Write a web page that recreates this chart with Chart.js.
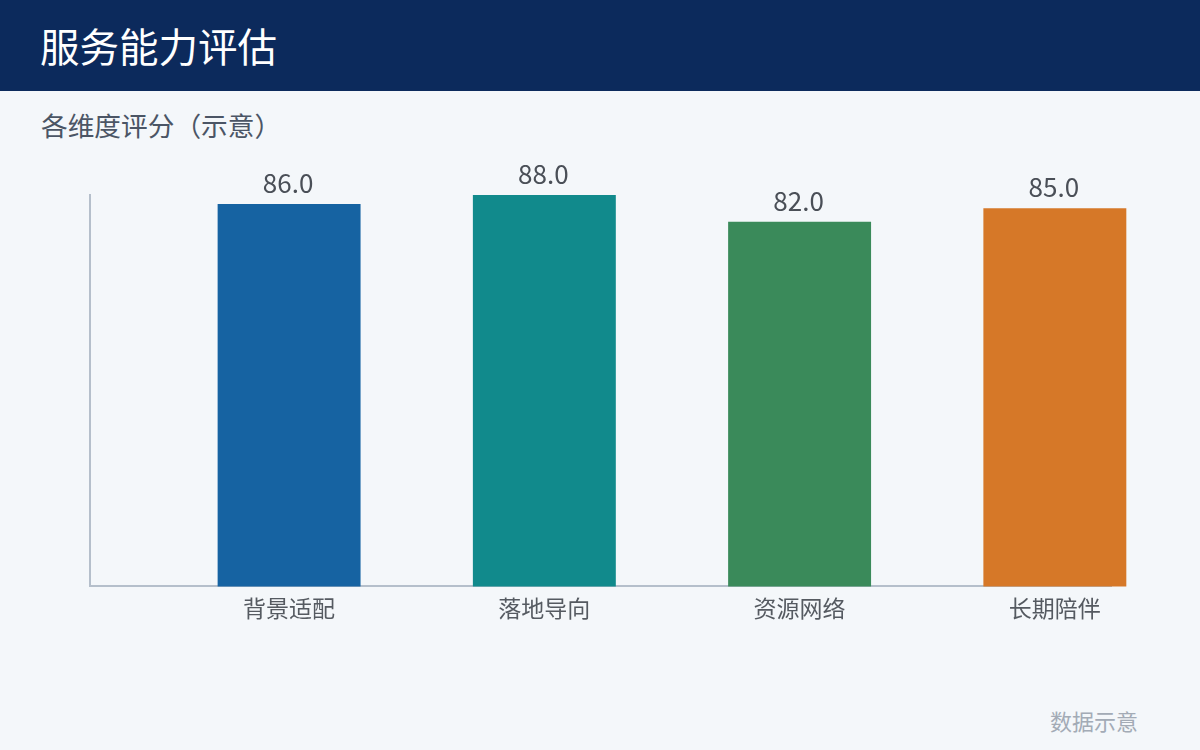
<!DOCTYPE html>
<html>
<head>
<meta charset="utf-8">
<script src="https://cdn.jsdelivr.net/npm/chart.js@4.4.1/dist/chart.umd.min.js"></script>
<style>
  html, body { margin: 0; padding: 0; }
  body {
    width: 1200px; height: 750px; position: relative; overflow: hidden;
    background: #f4f7fa;
    font-family: "Noto Sans CJK SC", "Noto Sans", sans-serif;
  }
  .header {
    position: absolute; left: 0; top: 0; width: 1200px; height: 91px;
    background: #0c2a5c; color: #fff;
  }
  .header h1 {
    margin: 0; position: absolute; left: 40px; top: 19px;
    font-size: 39.5px; font-weight: 400; line-height: 52px;
  }
  .subtitle {
    position: absolute; left: 41px; top: 107px;
    font-size: 26.7px; color: #4b5565; line-height: 36px;
  }
  .note {
    position: absolute; right: 62px; top: 705px;
    font-size: 22px; color: #a3abb6; line-height: 30px;
  }
  #wrap { position: absolute; left: 0; top: 0; width: 1200px; height: 750px; }
</style>
</head>
<body>
<div class="header"><h1>服务能力评估</h1></div>
<div class="subtitle">各维度评分（示意）</div>
<div class="note">数据示意</div>
<div id="wrap"><canvas id="chart"></canvas></div>
<script>
const categories = ['背景适配', '落地导向', '资源网络', '长期陪伴'];
const scores = [86, 88, 82, 85];
const barColors = ['#1663a2', '#118a8c', '#3a8a5a', '#d67828'];

// bars sit to the right of each slot centre, labels follow the bars
const SHIFT = 0.28;

const valueLabels = {
  id: 'valueLabels',
  afterDatasetsDraw(chart) {
    const ctx = chart.ctx;
    const meta = chart.getDatasetMeta(0);
    ctx.save();
    ctx.font = '26px "Noto Sans CJK SC", sans-serif';
    ctx.fillStyle = '#4a4f57';
    ctx.textAlign = 'center';
    ctx.textBaseline = 'bottom';
    meta.data.forEach((bar, i) => {
      ctx.fillText(scores[i].toFixed(1), bar.x - 1, bar.y - 8);
    });
    ctx.restore();
  }
};

const ctx = document.getElementById('chart').getContext('2d');
new Chart(ctx, {
  type: 'bar',
  data: {
    datasets: [{
      data: scores.map((v, i) => ({ x: i + SHIFT, y: v })),
      backgroundColor: barColors,
      borderWidth: 0,
      barPercentage: 0.56,
      categoryPercentage: 1,
      clip: false
    }]
  },
  options: {
    responsive: true,
    maintainAspectRatio: false,
    animation: false,
    layout: { padding: { left: 90, right: 89, top: 195, bottom: 120 } },
    plugins: { legend: { display: false }, tooltip: { enabled: false } },
    scales: {
      x: {
        type: 'linear',
        min: -0.5,
        max: 3.5,
        offset: false,
        afterBuildTicks(scale) {
          scale.ticks = categories.map((c, i) => ({ value: i + SHIFT }));
        },
        ticks: {
          autoSkip: false,
          maxRotation: 0,
          padding: 8,
          color: '#555a61',
          font: { family: '"Noto Sans CJK SC", sans-serif', size: 23 },
          callback: (v) => categories[Math.round(v - SHIFT)]
        },
        grid: { display: false, drawTicks: false },
        border: { color: '#b5bfcb', width: 2 }
      },
      y: {
        min: 0,
        max: 88,
        ticks: { display: false },
        grid: { display: false, drawTicks: false },
        border: { color: '#b5bfcb', width: 2 }
      }
    }
  },
  plugins: [valueLabels]
});
</script>
</body>
</html>
